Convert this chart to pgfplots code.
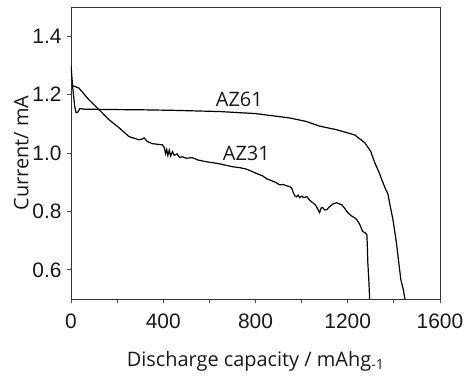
\documentclass[border=0pt]{standalone}
\usepackage{fontspec}
\setmainfont{Open Sans}
\newfontfamily\tickfont{Liberation Sans}
\usepackage{pgfplots}
\pgfplotsset{compat=1.18}
\begin{document}
\begin{tikzpicture}
\useasboundingbox (-71bp,-78bp) rectangle (394bp,299bp);
\begin{axis}[
  at={(0,0)}, anchor=south west,
  scale only axis,
  width=369bp, height=292bp,
  xmin=0, xmax=1600, ymin=0.5, ymax=1.5,
  xtick={0,200,...,1600},
  xticklabels={0,,400,,800,,1200,,1600},
  ytick={0.6,0.8,1.0,1.2,1.4},
  y tick label style={/pgf/number format/fixed,/pgf/number format/fixed zerofill,/pgf/number format/precision=1},
  tick pos=left,
  tick align=outside,
  major tick length=4bp,
  axis line style={draw=black!80, line width=0.8bp},
  every tick/.style={draw=black!70, line width=0.8bp},
  /pgf/number format/assume math mode=true,
  ticklabel style={font=\tickfont\fontsize{21}{24}\selectfont, text=black!90},
  xticklabel style={yshift=-7bp},
  yticklabel style={xshift=-2bp},
  xlabel={Discharge capacity / mAhg\textsubscript{-1}},
  ylabel={Current/ mA},
  label style={font=\fontsize{20}{24}\selectfont, text=black!90},
  xlabel style={at={(axis description cs:0.5,-0.23)}, anchor=base},
  ylabel style={at={(axis description cs:-0.135,0.5)}, anchor=center},
  clip=true,
]
% AZ61
\addplot[black, line width=1.2bp] coordinates {
(0,1.298) (8,1.22) (16,1.16) (22,1.138) (30,1.14) (38,1.152) (60,1.150) (150,1.149)
(300,1.148) (450,1.146) (643,1.142) (800,1.135) (948,1.120) (1020,1.108)
(1078,1.092) (1150,1.080) (1230,1.062) (1274,1.035) (1300,1.005) (1317,0.967)
(1335,0.935) (1348,0.908) (1362,0.880) (1374,0.860) (1380,0.835) (1396,0.772)
(1405,0.725) (1413,0.680) (1422,0.620) (1430,0.567) (1440,0.535) (1448,0.500)
};
% AZ31
\addplot[black, line width=1.2bp] coordinates {
(2,1.232) (10,1.230) (35,1.222) (78,1.182) (122,1.148) (165,1.114) (209,1.086)
(252,1.056) (296,1.045) (310,1.048) (317,1.052) (330,1.040) (352,1.032)
(396,1.028) (405,1.018) (410,0.998) (415,1.012) (420,0.992) (426,1.010)
(432,0.990) (440,1.005) (448,0.992) (460,0.997) (470,0.985) (483,0.987)
(500,0.982) (526,0.984) (550,0.976) (587,0.970) (620,0.966) (643,0.963)
(700,0.953) (730,0.950) (760,0.945) (787,0.936) (810,0.928) (830,0.922)
(848,0.912) (870,0.905) (891,0.898) (904,0.891) (920,0.892) (935,0.888)
(948,0.885) (957,0.880) (965,0.862) (972,0.852) (978,0.850) (985,0.856)
(991,0.847) (1000,0.852) (1010,0.847) (1022,0.851) (1035,0.838) (1048,0.830)
(1060,0.822) (1070,0.808) (1078,0.796) (1085,0.812) (1091,0.813) (1100,0.805)
(1109,0.806) (1120,0.815) (1135,0.825) (1152,0.830) (1162,0.826) (1174,0.823)
(1187,0.810) (1200,0.796) (1215,0.785) (1230,0.778) (1239,0.772) (1252,0.755)
(1265,0.731) (1275,0.727) (1283,0.720) (1285,0.680) (1287,0.625) (1291,0.570) (1295,0.500)
};
\node[font=\fontsize{20}{24}\selectfont, text=black!90] at (axis cs:730,1.182) {AZ61};
\node[font=\fontsize{20}{24}\selectfont, text=black!90] at (axis cs:760,0.997) {AZ31};
\end{axis}
\end{tikzpicture}
\end{document}
